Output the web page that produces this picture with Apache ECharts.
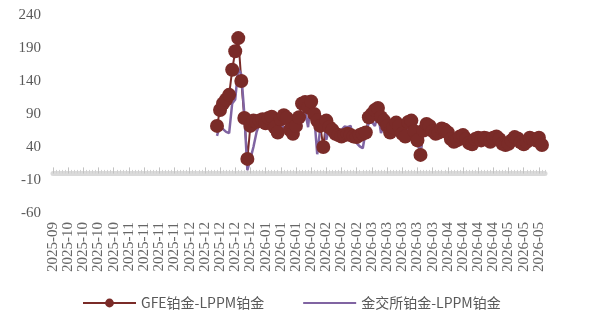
<!DOCTYPE html>
<html><head><meta charset="utf-8">
<script src="https://cdn.jsdelivr.net/npm/echarts@6/dist/echarts.min.js"></script>
<style>html,body{margin:0;padding:0;background:#fff}#c{width:597px;height:315px}</style>
</head><body><div id="c"></div>
<script>
// Tick labels shown every 5 trading days on the category axis
const tickLabels = ['2025-09','2025-10','2025-10','2025-10','2025-10','2025-11','2025-11','2025-11','2025-11',
  '2025-12','2025-12','2025-12','2025-12','2025-12','2026-01','2026-01','2026-01','2026-02','2026-02','2026-02','2026-02',
  '2026-03','2026-03','2026-03','2026-03','2026-03','2026-04','2026-04','2026-04','2026-04','2026-05','2026-05','2026-05'];
const categoryCount = 163;   // trading days on the axis
const dataStart = 54;        // first trading day that has data
const seriesNames = ['GFE铂金-LPPM铂金', '金交所铂金-LPPM铂金'];
const gfeValues = [
  72,96,106,112,119,157,185,205,140,84,
  22,72,80,78,80,82,76,84,86,70,
  62,82,88,84,66,60,72,85,106,108,
  100,109,90,80,72,40,80,70,66,60,
  58,56,58,60,58,56,55,58,60,62,
  85,90,96,99,85,80,72,62,70,77,
  72,60,56,78,80,64,50,28,65,75,
  72,64,60,62,68,66,62,52,48,50,
  56,58,52,46,44,52,54,50,54,53,
  48,54,56,52,45,43,45,50,55,53,
  47,44,48,54,52,50,54,43];
const sgeValues = [
  57,73,67,63,61,106,112,159,150,90,
  5,22,40,62,76,84,69,76,81,60,
  80,83,64,74,64,66,76,84,91,95,
  70,117,88,29,68,86,51,70,62,66,
  61,66,71,70,72,50,46,41,38,65,
  76,78,72,91,61,72,66,56,60,66,
  64,55,48,66,68,56,45,33,62,58,
  59,60,63,55,66,68,68,68,45,48,
  50,51,53,47,41,47,52,51,50,53,
  52,56,57,50,39,38,38,45,54,52,
  45,40,48,56,52,51,57,45];
const yLabelStep = 50, yMin = -60, yMax = 240;

const categories = [];
for (let i = 0; i < categoryCount; i++) categories.push(tickLabels[Math.min(Math.floor(i / 5), tickLabels.length - 1)]);
function pad(vals) { return new Array(dataStart).fill(null).concat(vals); }

const serif = 'Liberation Serif';
const gridRect = {left: 53, top: 15, width: 492, height: 198, containLabel: false};
const chart = echarts.init(document.getElementById('c'), null, {renderer: 'canvas'});
chart.setOption({
  animation: false,
  backgroundColor: '#ffffff',
  grid: [Object.assign({}, gridRect), Object.assign({}, gridRect)],
  legend: {
    left: 82, top: 296, padding: 0, itemWidth: 53, itemHeight: 11, itemGap: 38,
    textStyle: {fontFamily: 'Noto Sans CJK SC', fontSize: 14, color: '#595959'},
    data: [
      {name: seriesNames[0]},
      {name: seriesNames[1], itemStyle: {opacity: 0}}
    ]
  },
  xAxis: [
    {type: 'category', gridIndex: 0, data: categories, boundaryGap: false, position: 'bottom',
     axisLine: {show: true, onZero: true, lineStyle: {color: '#dadada', width: 5}},
     axisTick: {show: true, interval: 0, inside: true, length: 3.5, lineStyle: {color: '#d0d0d0', width: 1}},
     axisLabel: {show: false}, splitLine: {show: false}},
    {type: 'category', gridIndex: 0, data: categories, boundaryGap: false, position: 'bottom',
     axisLine: {show: false, onZero: false}, axisTick: {show: false},
     axisLabel: {show: true, interval: 4, rotate: 90, margin: 9, fontFamily: serif, fontSize: 15, color: '#666666'},
     splitLine: {show: false}},
    {type: 'category', gridIndex: 1, data: categories, boundaryGap: false, position: 'bottom',
     axisLine: {show: true, onZero: true, lineStyle: {color: 'rgba(0,0,0,0)', width: 1}},
     axisTick: {show: true, interval: 4, inside: true, length: 6, lineStyle: {color: '#c2c2c2', width: 1}},
     axisLabel: {show: false}, splitLine: {show: false}}
  ],
  yAxis: [
    {type: 'value', gridIndex: 0, min: yMin, max: yMax, interval: 10,
     axisLine: {show: false}, axisTick: {show: false}, splitLine: {show: false},
     axisLabel: {margin: 12, fontFamily: serif, fontSize: 15, color: '#595959',
       formatter: v => ((v - yMin) % yLabelStep === 0 ? String(v) : '')}},
    {type: 'value', gridIndex: 1, min: yMin, max: yMax, interval: 10, show: false,
     axisLine: {show: false}, axisTick: {show: false}, splitLine: {show: false}, axisLabel: {show: false}}
  ],
  series: [
    {name: seriesNames[0], type: 'line', xAxisIndex: 0, yAxisIndex: 0, data: pad(gfeValues),
     symbol: 'circle', symbolSize: 14, showSymbol: true, showAllSymbol: true,
     itemStyle: {color: '#7A2B28'}, lineStyle: {color: '#7A2B28', width: 2}},
    {name: seriesNames[1], type: 'line', xAxisIndex: 0, yAxisIndex: 0, data: pad(sgeValues),
     symbol: 'none', showSymbol: false,
     itemStyle: {color: '#8064A2'}, lineStyle: {color: '#8064A2', width: 2.5}}
  ]
});
</script></body></html>
